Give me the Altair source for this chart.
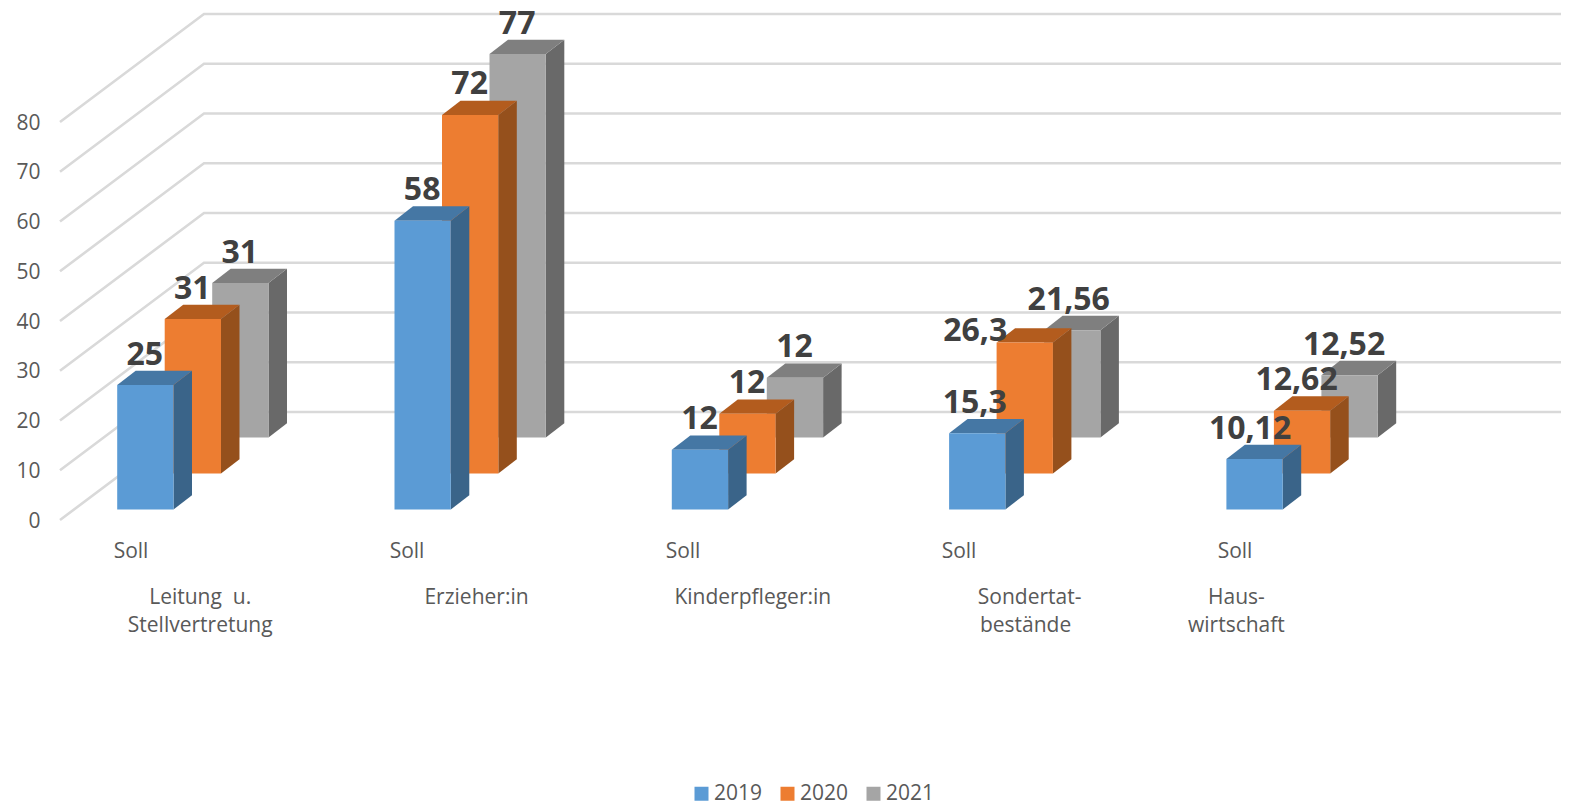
import altair as alt
import pandas as pd

# ---- values ----
series = ["2019", "2020", "2021"]
values_2019 = [25, 58, 12, 15.3, 10.12]
values_2020 = [31, 72, 12, 26.3, 12.62]
values_2021 = [31, 77, 12, 21.56, 12.52]
y_ticks = [0, 10, 20, 30, 40, 50, 60, 70, 80]
sub_labels = ["Soll", "Soll", "Soll", "Soll", "Soll"]
cat_line1 = ["Leitung\u00a0\u00a0u.", "Erzieher:in", "Kinderpfleger:in", "Sondertat-", "Haus-"]
cat_line2 = ["Stellvertretung", "", "", "bestände", "wirtschaft"]

# ---- layout and style ----
FRONT = {"2019": "#5b9bd5", "2020": "#ed7d31", "2021": "#a5a5a5"}
SIDE = {"2019": "#3a6489", "2020": "#95501c", "2021": "#696969"}
TOP = {"2019": "#4577a4", "2020": "#b35c1e", "2021": "#7f7f7f"}
FONT = "Open Sans"
PAD_L = 40
W, H = 1513, 795
PX = 4.975                     # pixels per value unit
Y0 = 520                       # page y of value 0 on the axis
def yv(page_y):
    return (Y0 - page_y) / PX
DOM_Y = [yv(8 + H), yv(8)]
DOM_X = [8 + PAD_L, 8 + PAD_L + W]
CAT0, CAT_STEP = 117.2, 277.3
BAR_W, SER_STEP = 56.3, 47.5
BASE = {"2019": yv(509.5), "2020": yv(473.5), "2021": yv(437.5)}
DX, DY = 18.5, 14.3 / PX
WALL_DX = 144
WALL_DY = 108 / PX
VSCALE = 4.98 / PX
SCALE_X = alt.Scale(domain=DOM_X, nice=False, zero=False)
SCALE_Y = alt.Scale(domain=DOM_Y, nice=False, zero=False)
Y_AXIS = alt.Axis(values=y_ticks, domain=False, ticks=False, grid=False,
                  labelFont=FONT, labelFontSize=21, labelColor="#595959",
                  labelPadding=8, labelOverlap=False, labelOffset=1, title=None)
# hand placement of a few data labels, as in the source picture
LABEL_SHIFT = {(3, "2019"): (-2, 0), (3, "2020"): (-49, -19), (3, "2021"): (-3, 0),
               (4, "2019"): (-4, 0), (4, "2020"): (-5, 0), (4, "2021"): (-5, 0)}

all_values = {"2019": values_2019, "2020": values_2020, "2021": values_2021}

X = lambda f="x": alt.X(f"{f}:Q", scale=SCALE_X, axis=None)
Y = lambda f="y": alt.Y(f"{f}:Q", scale=SCALE_Y, axis=Y_AXIS)

# walls: gridlines running back from the axis and along the rear wall
grid_rows = []
for t in y_ticks:
    grid_rows += [dict(t=t, x=60, y=t), dict(t=t, x=60 + WALL_DX, y=t + WALL_DY),
                  dict(t=t, x=DOM_X[1], y=t + WALL_DY)]
grid = alt.Chart(pd.DataFrame(grid_rows)).mark_line(
    color="#d9d9d9", strokeWidth=2.6, clip=True
).encode(x=X(), y=Y(), detail="t:N", order="x:Q")

layers = [grid]
for s in reversed(series):
    off = series.index(s) * SER_STEP
    front, side, top = [], [], []
    for i, v in enumerate(all_values[s]):
        x0 = CAT0 + CAT_STEP * i + off
        x1 = x0 + BAR_W
        b = BASE[s]
        t = b + v * VSCALE
        front.append(dict(x=x0, x2=x1, y=b, y2=t, series=s))
        side += [dict(i=i, x=x1, y=t, y2=b), dict(i=i, x=x1 + DX, y=t + DY, y2=b + DY)]
        top += [dict(i=i, y=t, x=x0, x2=x1), dict(i=i, y=t + DY, x=x0 + DX, x2=x1 + DX)]
    layers.append(alt.Chart(pd.DataFrame(side)).mark_area(color=SIDE[s]).encode(
        x=X(), y=Y(), y2="y2:Q", detail="i:N"))
    layers.append(alt.Chart(pd.DataFrame(top)).mark_area(color=TOP[s], orient="horizontal").encode(
        y=Y(), x=X(), x2="x2:Q", detail="i:N"))
    layers.append(alt.Chart(pd.DataFrame(front)).mark_bar().encode(
        x=X(), x2="x2:Q", y=Y(), y2="y2:Q",
        color=alt.Color("series:N", scale=alt.Scale(domain=series, range=[FRONT[k] for k in series]),
                        legend=alt.Legend(orient="none", legendX=643, legendY=775, direction="horizontal",
                                          title=None, symbolType="square", symbolSize=196,
                                          symbolStrokeWidth=0, labelFont=FONT, labelFontSize=21,
                                          labelColor="#595959", columnPadding=14, labelOffset=2,
                                          padding=0, columns=3)),
    ))

# data labels
label_rows = []
for s in series:
    off = series.index(s) * SER_STEP
    for i, v in enumerate(all_values[s]):
        dx, dy = LABEL_SHIFT.get((i, s), (0, 0))
        label_rows.append(dict(
            x=CAT0 + CAT_STEP * i + off + BAR_W / 2 - 0.5 + dx,
            y=BASE[s] + v * VSCALE + (30.5 + dy) / PX,
            text=f"{v:g}".replace(".", ",")))
layers.append(alt.Chart(pd.DataFrame(label_rows)).mark_text(
    font=FONT, fontSize=32, fontWeight="bold", color="#404040", baseline="middle", align="center"
).encode(x=X(), y=Y(), text="text:N"))

# category text under the floor
text_rows = []
line1_shift = [83, 82, 81, 80.5, 10]
line2_shift = [83, 0, 0, 76.5, 10]
for i in range(5):
    cx = CAT0 + CAT_STEP * i
    text_rows.append(dict(x=131 + 276 * i, y=yv(552), text=sub_labels[i]))
    text_rows.append(dict(x=cx + line1_shift[i], y=yv(598), text=cat_line1[i]))
    if cat_line2[i]:
        text_rows.append(dict(x=cx + line2_shift[i], y=yv(626), text=cat_line2[i]))
layers.append(alt.Chart(pd.DataFrame(text_rows)).mark_text(
    font=FONT, fontSize=21, color="#595959", baseline="middle", align="center"
).encode(x=X(), y=Y(), text="text:N"))

chart = alt.layer(*layers).properties(
    width=W, height=H,
    padding={"left": PAD_L, "top": 0, "right": 0, "bottom": 0},
    autosize=alt.AutoSizeParams(type="none"),
    background="white",
).configure_view(stroke=None)

chart.save("out.html", embed_options={"renderer": "svg", "actions": False})
